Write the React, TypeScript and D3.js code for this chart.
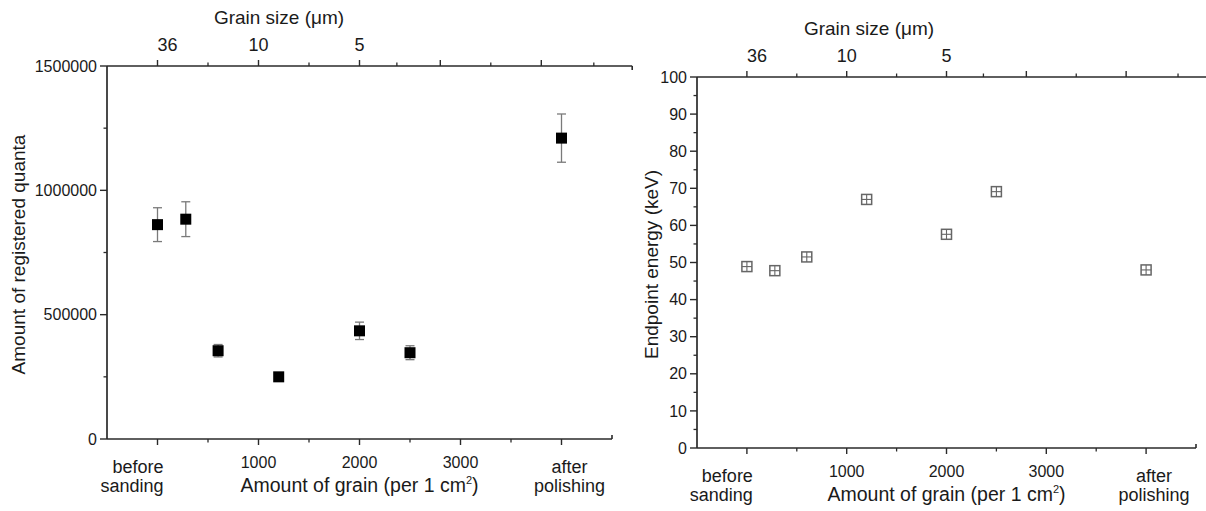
import React from "react";
import * as d3 from "d3";

// ---- data ----
const grainAmount = [0, 280, 600, 1200, 2000, 2500, 4000];
const quanta = [862000, 884000, 355000, 250000, 435000, 347000, 1210000];
const quantaErr = [68000, 70000, 25000, 6000, 35000, 28000, 97000];
const endpointEnergy = [48.9, 47.8, 51.5, 67.0, 57.6, 69.1, 48.0];

const bottomMajorTicks = [0, 1000, 2000, 3000, 4000];
const bottomMinorTicks = [500, 1500, 2500, 3500];
const bottomTickLabels = ["before|sanding", "1000", "2000", "3000", "after|polishing"];
const grainSizeMajorTicks = [0, 1000, 2000, 2800, 3800];
const grainSizeMinorTicks = [500, 1500, 2370, 3300, 4320];
const grainSizeLabels = ["36", "10", "5", "", ""];
const quantaTicks = [0, 500000, 1000000, 1500000];
const quantaMinorTicks = [250000, 750000, 1250000];
const energyTicks = [0, 10, 20, 30, 40, 50, 60, 70, 80, 90, 100];
const energyMinorTicks = [5, 15, 25, 35, 45, 55, 65, 75, 85, 95];

const FONT = "'Liberation Sans', Arial, sans-serif";
const AXIS = "#2a2a2a";
const TEXT = "#1a1a1a";

type PanelProps = {
  x0: number; x1: number; yTop: number; yBottom: number;
  yDomain: [number, number]; yTicks: number[]; yMinor: number[];
  yTitle: string; yTitleX: number; topEnd: number;
  kind: "quanta" | "energy";
};

function Panel(p: PanelProps) {
  const x = d3.scaleLinear().domain([-500, 4500]).range([p.x0, p.x1]);
  const y = d3.scaleLinear().domain(p.yDomain).range([p.yBottom, p.yTop]);
  const ax = p.x0;
  const bottom = p.yBottom;
  const top = p.yTop;
  const topEndPx = x(p.topEnd);

  return (
    <g fontFamily={FONT} fill={TEXT}>
      {/* axes lines */}
      <line x1={ax} x2={ax} y1={top} y2={bottom} stroke={AXIS} strokeWidth={1.7} />
      <line x1={ax} x2={p.x1} y1={bottom} y2={bottom} stroke={AXIS} strokeWidth={1.7} />
      <line x1={p.x1} x2={p.x1} y1={bottom} y2={bottom - 4} stroke={AXIS} strokeWidth={1.6} />
      <line x1={ax} x2={topEndPx} y1={top} y2={top} stroke={AXIS} strokeWidth={1.7} />
      <line x1={topEndPx} x2={topEndPx} y1={top} y2={top + 4} stroke={AXIS} strokeWidth={1.6} />

      {/* y ticks */}
      {p.yTicks.map((t) => (
        <g key={"yt" + t}>
          <line x1={ax - 7} x2={ax} y1={y(t)} y2={y(t)} stroke={AXIS} strokeWidth={1.4} />
          <text x={ax - 10} y={y(t)} dy="0.35em" textAnchor="end" fontSize={16}>{t}</text>
        </g>
      ))}
      {p.yMinor.map((t) => (
        <line key={"ym" + t} x1={ax - 3.5} x2={ax} y1={y(t)} y2={y(t)} stroke={AXIS} strokeWidth={1.3} />
      ))}
      <text transform={`translate(${p.yTitleX},${(top + bottom) / 2 + 2}) rotate(-90)`} textAnchor="middle" dy="0.35em" fontSize={19}>
        {p.yTitle}
      </text>

      {/* bottom ticks */}
      {bottomMajorTicks.map((t, i) => {
        const lab = bottomTickLabels[i];
        const parts = lab.split("|");
        const lx = t === 0 ? x(t) + 6 : x(t) + 8;
        return (
          <g key={"bt" + t}>
            <line x1={x(t)} x2={x(t)} y1={bottom} y2={bottom + 6} stroke={AXIS} strokeWidth={1.4} />
            {parts.length === 1 ? (
              <text x={x(t)} y={bottom + 29} textAnchor="middle" fontSize={16}>{lab}</text>
            ) : (
              <text x={lx} y={bottom + 34} textAnchor={t === 0 ? "end" : "middle"} fontSize={18}>
                <tspan x={lx}>{parts[0]}</tspan>
                <tspan x={lx} dy={19}>{parts[1]}</tspan>
              </text>
            )}
          </g>
        );
      })}
      {bottomMinorTicks.map((t) => (
        <line key={"bm" + t} x1={x(t)} x2={x(t)} y1={bottom} y2={bottom + 3.5} stroke={AXIS} strokeWidth={1.3} />
      ))}
      <text x={(p.x0 + p.x1) / 2} y={bottom + 53} textAnchor="middle" fontSize={19.5}>
        Amount of grain (per 1 cm<tspan dy={-8} fontSize={11}>2</tspan><tspan dy={8}>)</tspan>
      </text>

      {/* top (grain size) axis */}
      {grainSizeMajorTicks.map((t, i) => (
        <g key={"tt" + t}>
          <line x1={x(t)} x2={x(t)} y1={top} y2={top - 6} stroke={AXIS} strokeWidth={1.4} />
          {grainSizeLabels[i] && (
            <text x={x(t) + (i === 0 ? 10 : 0)} y={top - 15} textAnchor="middle" fontSize={18}>{grainSizeLabels[i]}</text>
          )}
        </g>
      ))}
      {grainSizeMinorTicks.map((t) => (
        <line key={"tm" + t} x1={x(t)} x2={x(t)} y1={top} y2={top - 3.5} stroke={AXIS} strokeWidth={1.3} />
      ))}
      <text x={p.x0 + 172} y={top - 42} textAnchor="middle" fontSize={19}>Grain size (μm)</text>

      {/* data */}
      {p.kind === "quanta" &&
        grainAmount.map((g, i) => {
          const cx = x(g);
          const cy = y(quanta[i]);
          const yt = y(quanta[i] + quantaErr[i]);
          const yb = y(quanta[i] - quantaErr[i]);
          return (
            <g key={"q" + i}>
              <line x1={cx} x2={cx} y1={yt} y2={yb} stroke="#7a7a7a" strokeWidth={1.3} />
              <line x1={cx - 4.5} x2={cx + 4.5} y1={yt} y2={yt} stroke="#7a7a7a" strokeWidth={1.3} />
              <line x1={cx - 4.5} x2={cx + 4.5} y1={yb} y2={yb} stroke="#7a7a7a" strokeWidth={1.3} />
              <rect x={cx - 5.5} y={cy - 5.5} width={11} height={11} fill="#000" />
            </g>
          );
        })}
      {p.kind === "energy" &&
        grainAmount.map((g, i) => {
          const cx = x(g);
          const cy = y(endpointEnergy[i]);
          return (
            <g key={"e" + i}>
              <rect x={cx - 5} y={cy - 5} width={10} height={10} fill="#fff" stroke="#666" strokeWidth={1.5} />
              <line x1={cx - 5} x2={cx + 5} y1={cy} y2={cy} stroke="#666" strokeWidth={1.1} />
              <line x1={cx} x2={cx} y1={cy - 5} y2={cy + 5} stroke="#666" strokeWidth={1.1} />
            </g>
          );
        })}
    </g>
  );
}

export default function App() {
  return (
    <svg
      width={1206}
      height={511}
      style={{ position: "absolute", left: 0, top: 0, background: "#fff" }}
    >
      <rect width={1206} height={511} fill="#fff" />
      <Panel
        x0={107} x1={612} yTop={66} yBottom={439}
        yDomain={[0, 1500000]} yTicks={quantaTicks} yMinor={quantaMinorTicks}
        yTitle="Amount of registered quanta" yTitleX={18} topEnd={4700}
        kind="quanta"
      />
      <Panel
        x0={697} x1={1196} yTop={77} yBottom={448}
        yDomain={[0, 100]} yTicks={energyTicks} yMinor={energyMinorTicks}
        yTitle="Endpoint energy (keV)" yTitleX={651} topEnd={4750}
        kind="energy"
      />
    </svg>
  );
}
